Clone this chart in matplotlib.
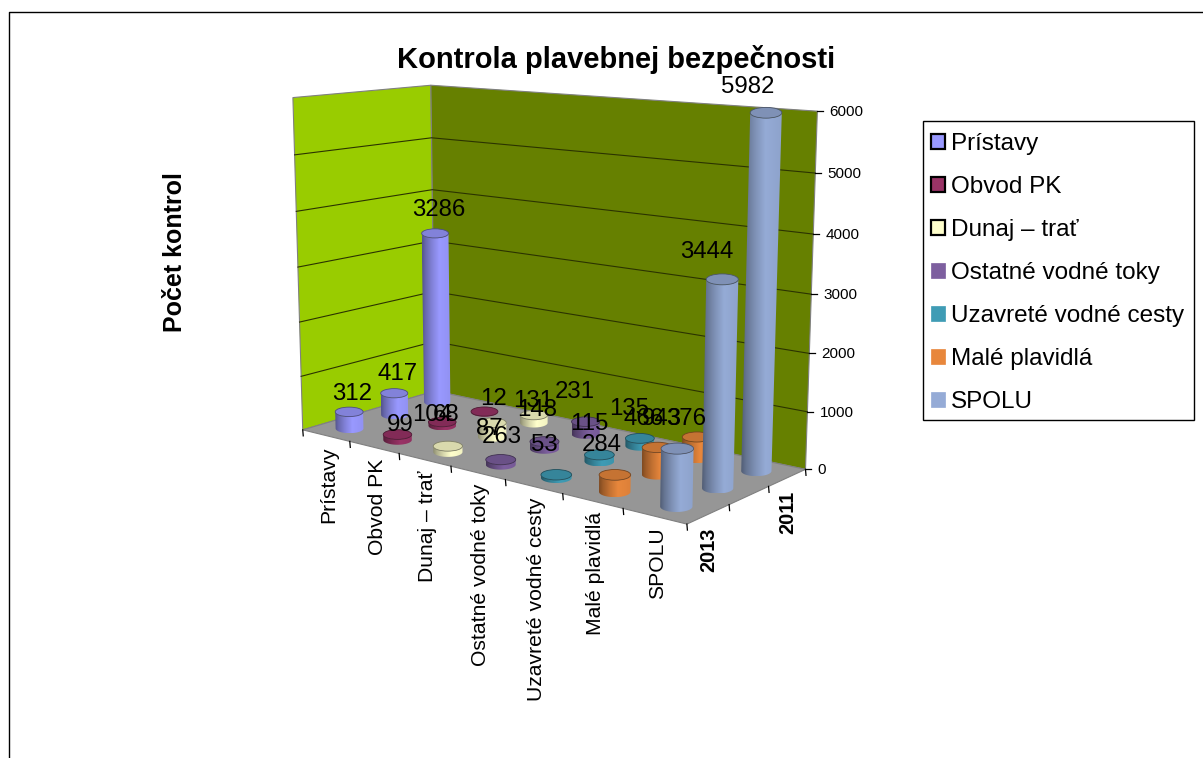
import numpy as np
import matplotlib
matplotlib.use("Agg")
import matplotlib.pyplot as plt
from matplotlib.patches import Ellipse, Patch, Polygon, Rectangle

plt.rcParams['font.family'] = ['Liberation Sans', 'DejaVu Sans']

# Data
categories = ['Prístavy', 'Obvod PK', 'Dunaj – trať', 'Ostatné vodné toky',
              'Uzavreté vodné cesty', 'Malé plavidlá', 'SPOLU']
years = ['2013', '2012', '2011']
values_2013 = [312, 99, 104, 87, 53, 284, 943]
values_2012 = [417, 68, 263, 131, 115, 466, 3444]
values_2011 = [3286, 12, 148, 231, 135, 376, 5982]
rows = [values_2013, values_2012, values_2011]
y_ticks = [0, 1000, 2000, 3000, 4000, 5000, 6000]

colors = ['#9999FF', '#993366', '#FFFFCC', '#7D5F9F', '#3F9CB5', '#E8873C', '#95ABD6']

# where each value label sits relative to the top of its cylinder, in pixels
label_off_2013 = [(3, -20), (2.5, -11.5), (-16, -33), (-11, -33), (-12, -32), (-13, -32), (-15, -32)]
label_off_2012 = [(3, -21), (4, -9), (10, 12), (-11.5, -43), (-10, -33), (-14, -30), (-15, -29)]
label_off_2011 = [(4, -25), (9.5, -14.5), (3, -7), (-11, -32), (-11, -31), (-11, -20), (-18, -28)]
label_off = [label_off_2013, label_off_2012, label_off_2011]

# world (category, depth, thousands) -> picture pixel, used to fit the camera
world_pts = [(0, 0, 0), (0, 3, 0), (7, 3, 0), (7, 0, 0), (0, 0, 6), (0, 3, 6), (7, 3, 6),
             (1, 0, 0), (2, 0, 0), (3, 0, 0), (4, 0, 0), (5, 0, 0), (6, 0, 0), (7, 1, 0), (7, 2, 0)]
pixel_pts = [(303, 429), (434, 392), (806, 468), (687, 524), (292, 98), (432, 85), (817, 111),
             (350, 441), (399, 453), (451, 466), (506, 480), (563, 494), (623, 509), (729, 505), (768, 487)]


def fit_camera(world, pixel):
    A = []
    for (x, z, v), (u, w) in zip(world, pixel):
        A.append([x, z, v, 1, 0, 0, 0, 0, -u*x, -u*z, -u*v, -u])
        A.append([0, 0, 0, 0, x, z, v, 1, -w*x, -w*z, -w*v, -w])
    return np.linalg.svd(np.array(A))[2][-1].reshape(3, 4)


P = fit_camera(world_pts, pixel_pts)
W_REF = (P @ np.array([3.5, 1.5, 0, 1]))[2]


def project(x, z, v):
    h = P @ np.array([x, z, v/1000.0, 1])
    return h[0]/h[2], h[1]/h[2], W_REF/h[2]


def px(x, z, v):
    return project(x, z, v)[:2]


def draw_cylinder(ax, i, r, value, color, zo):
    base = np.array(matplotlib.colors.to_rgb(color))
    cx0, cy0, s0 = project(i+0.5, r+0.5, 0)
    cx1, cy1, s1 = project(i+0.5, r+0.5, value)
    a0, a1 = 14.5*s0, 14.5*s1
    ratio = 0.34
    # body outline: front arc of the base, then the top ellipse edge
    ts = np.linspace(np.pi, 0, 60)
    low = np.column_stack([cx0+a0*np.cos(ts), cy0+a0*ratio*np.sin(ts)])
    high = np.column_stack([cx1+a1*np.cos(ts[::-1]), cy1+a1*ratio*np.sin(ts[::-1])])
    body = Polygon(np.vstack([low, high]), closed=True, transform=ax.transData,
                   facecolor='none', edgecolor='none')
    ax.add_patch(body)
    xmin, xmax = min(low[:, 0].min(), high[:, 0].min()), max(low[:, 0].max(), high[:, 0].max())
    ymin, ymax_ = min(low[:, 1].min(), high[:, 1].min()), max(low[:, 1].max(), high[:, 1].max())
    frac = np.linspace(0, 1, 64)
    shade = np.interp(frac, [0, 0.12, 0.35, 0.6, 1], [0.55, 0.68, 0.85, 1.0, 0.95])
    grad = np.clip(base[None, None, :]*shade[None, :, None], 0, 1)
    im = ax.imshow(grad, extent=(xmin, xmax, ymax_, ymin), aspect='auto',
                   interpolation='bilinear', zorder=zo)
    im.set_clip_path(body)
    ax.add_patch(Ellipse((cx1, cy1), 2*a1, 2*a1*ratio, facecolor=base*0.85,
                         edgecolor=base*0.5, linewidth=0.6, zorder=zo+0.5))


fig = plt.figure(figsize=(12.03, 7.58), dpi=100)
ax = fig.add_axes([0, 0, 1, 1])

# outer chart border
ax.plot([9, 9, 1203], [758, 12, 12], color='black', lw=1)

# walls and floor
ymax = y_ticks[-1]
ax.add_patch(Polygon([px(0, 0, 0), px(0, 3, 0), px(0, 3, ymax), px(0, 0, ymax)], facecolor='#99CC00', edgecolor='#808080', lw=0.8))
ax.add_patch(Polygon([px(0, 3, 0), px(7, 3, 0), px(7, 3, ymax), px(0, 3, ymax)], facecolor='#668000', edgecolor='#808080', lw=0.8))
ax.add_patch(Polygon([px(0, 0, 0), px(7, 0, 0), px(7, 3, 0), px(0, 3, 0)], facecolor='#969696', edgecolor='#808080', lw=0.8))

# gridlines and value axis
for v in y_ticks:
    pts = np.array([px(0, 0, v), px(0, 3, v), px(7, 3, v)])
    if 0 < v < ymax:
        ax.plot(pts[:, 0], pts[:, 1], color='#2b3300', lw=0.8)
    tx, ty = pts[2]
    ax.plot([tx, tx+6], [ty, ty], color='black', lw=0.9)
    ax.text(tx+12, ty+1, str(v), fontsize=11, ha='left', va='center', color='black')

# category and depth ticks
for i in range(len(categories)+1):
    tx, ty = px(i, 0, 0)
    ax.plot([tx, tx+0.5], [ty, ty+6], color='black', lw=0.9)
for r in range(1, 4):
    tx, ty = px(7, r, 0)
    ax.plot([tx, tx+0.5], [ty, ty+6], color='black', lw=0.9)

for i, name in enumerate(categories):
    tx, ty = px(i+0.5, 0, 0)
    ax.text(tx+3, ty+11, name, rotation=90, fontsize=15.2, ha='center', va='top')
for r in [0, 2]:
    tx, ty = px(7, r+0.5, 0)
    ax.text(tx+0.5, ty+13, years[r], rotation=90, fontsize=14.4, fontweight='bold', ha='center', va='top')

# cylinders, far ones first
zo = 3
for r in [2, 1, 0]:
    for i, color in enumerate(colors):
        draw_cylinder(ax, i, r, rows[r][i], color, zo)
        zo += 1

# value labels
for r in [2, 1, 0]:
    for i in range(len(categories)):
        tx, ty = px(i+0.5, r+0.5, rows[r][i])
        dx, dy = label_off[r][i]
        ax.text(tx+dx, ty+dy+2, str(rows[r][i]), fontsize=17.3, ha='center', va='center',
                color='black', zorder=100)

ax.text(616, 59, 'Kontrola plavebnej bezpečnosti', fontsize=21, fontweight='bold', ha='center', va='center')
ax.text(175, 252, 'Počet kontrol', fontsize=18, fontweight='bold', rotation=90, ha='center', va='center')

# legend, frame drawn apart so the padding can differ from the row layout
ax.add_patch(Rectangle((922.5, 120.7), 271, 299.3, facecolor='white', edgecolor='black', lw=1))
handles = []
for k, (name, color) in enumerate(zip(categories, colors)):
    edge = 'black' if k < 3 else color
    handles.append(Patch(facecolor=color, edgecolor=edge, linewidth=1.6 if k < 3 else 0.5, label=name))
ax.legend(handles=handles, loc='upper left', bbox_to_anchor=(930.5/1203, 1-133/758), fontsize=17.5,
          frameon=False, borderaxespad=0, borderpad=0,
          handlelength=0.58, handleheight=0.58, handletextpad=0.25, labelspacing=0.865)

ax.set_xlim(0, 1203)
ax.set_ylim(758, 0)
ax.axis('off')

fig.savefig('out.png', dpi=100)
